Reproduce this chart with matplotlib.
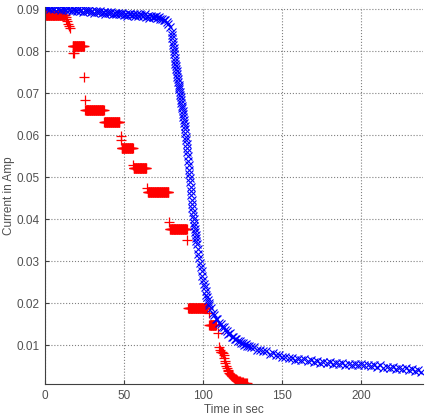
import numpy as np
import matplotlib
matplotlib.use("Agg")
import matplotlib.pyplot as plt

plt.rcParams['font.family'] = ['Liberation Sans', 'DejaVu Sans']

# blue series (x markers): time in s, current in A
blue_t = [0, 1, 2, 3, 4, 5, 6, 7, 8, 9, 10, 11, 12, 13, 14, 15, 16, 17, 18, 19,
          20, 21, 22, 23, 24, 25, 26, 27, 28, 29, 30, 31, 32, 33, 34, 35, 36, 37, 38, 39,
          40, 41, 42, 43, 44, 45, 46, 47, 48, 49, 50, 51, 52, 53, 54, 55, 56, 57, 58, 59,
          60, 61, 62, 63, 64, 65, 66, 67, 68, 69, 70, 71, 72, 73, 74, 75, 76, 77, 78, 79,
          80.0, 80.25, 80.5, 80.75, 81.0, 81.25, 81.5, 81.75, 82.0, 82.25, 82.5, 82.75,
          83.0, 83.25, 83.5, 83.75, 84.0, 84.25, 84.5, 84.75, 85.0, 85.25, 85.5, 85.75,
          86.0, 86.25, 86.5, 86.75, 87.0, 87.25, 87.5, 87.75, 88.0, 88.25, 88.5, 88.75,
          89.0, 89.25, 89.5, 89.75, 90.0, 90.25, 90.5, 90.75, 91.0, 91.25, 91.5, 91.75,
          92.0, 92.25, 92.5, 92.75, 93.0, 93.25, 93.5, 93.75, 94.0, 94.25, 94.5, 94.75,
          95.0, 95.25, 95.5, 95.75, 96.0, 96.5, 97.0, 97.5, 98.0, 98.5, 99.0, 99.5,
          100.0, 100.5, 101.0, 101.5, 102.0, 102.5, 103.0, 103.5, 104.0,
          105, 106, 107, 108, 109, 110, 111, 112, 113, 114, 115, 116, 117, 118, 119, 120,
          121, 122, 123, 124, 125, 126, 127, 128, 129, 130,
          132, 134, 136, 138, 140, 142, 144, 146, 148, 150, 152, 154, 156, 158, 160,
          162, 164, 166, 168, 170, 172, 174, 176, 178, 180, 182, 184, 186, 188, 190,
          192, 194, 196, 198, 200, 202, 204, 206, 208, 210, 212, 214, 216, 218, 220,
          222, 224, 226, 228, 230, 232, 234, 236, 238]
blue_i = [0.0906, 0.0902, 0.0904, 0.0900, 0.0905, 0.0903, 0.0901, 0.0905, 0.0900, 0.0902,
          0.0898, 0.0903, 0.0900, 0.0899, 0.0903, 0.0898, 0.0900, 0.0896, 0.0901, 0.0898,
          0.0897, 0.0901, 0.0895, 0.0898, 0.0894, 0.0899, 0.0896, 0.0895, 0.0899, 0.0893,
          0.0896, 0.0892, 0.0896, 0.0894, 0.0893, 0.0897, 0.0891, 0.0894, 0.0890, 0.0894,
          0.0892, 0.0891, 0.0894, 0.0889, 0.0892, 0.0888, 0.0892, 0.0890, 0.0889, 0.0892,
          0.0887, 0.0890, 0.0885, 0.0890, 0.0888, 0.0887, 0.0890, 0.0885, 0.0888, 0.0883,
          0.0888, 0.0886, 0.0884, 0.0888, 0.0882, 0.0885, 0.0880, 0.0885, 0.0882, 0.0881,
          0.0884, 0.0879, 0.0881, 0.0877, 0.0878, 0.0874, 0.0875, 0.0870, 0.0866, 0.0857,
          0.0845, 0.0838, 0.0831, 0.0823, 0.0815, 0.0808, 0.0800, 0.0793, 0.0785, 0.0778,
          0.0771, 0.0765, 0.0758, 0.0752, 0.0745, 0.0739, 0.0733, 0.0727, 0.0721, 0.0716,
          0.0710, 0.0704, 0.0697, 0.0691, 0.0684, 0.0677, 0.0671, 0.0664, 0.0657, 0.0650,
          0.0644, 0.0637, 0.0630, 0.0622, 0.0614, 0.0606, 0.0597, 0.0588, 0.0579, 0.0570,
          0.0560, 0.0550, 0.0539, 0.0529, 0.0518, 0.0508, 0.0498, 0.0488, 0.0478, 0.0468,
          0.0457, 0.0447, 0.0437, 0.0427, 0.0418, 0.0409, 0.0400, 0.0392, 0.0384, 0.0376,
          0.0369, 0.0362, 0.0355, 0.0348, 0.0342, 0.0330, 0.0318, 0.0307, 0.0296, 0.0286,
          0.0276, 0.0266, 0.0256, 0.0247, 0.0238, 0.0229, 0.0221, 0.0214, 0.0207, 0.0201,
          0.0196,
          0.0188, 0.0176, 0.0172, 0.0163, 0.0162, 0.0153, 0.0151, 0.0144, 0.0144, 0.0136,
          0.0135, 0.0128, 0.0129, 0.0121, 0.0121, 0.0115, 0.0116, 0.0110, 0.0111, 0.0105,
          0.0106, 0.0101, 0.0103, 0.0098, 0.0099, 0.0095,
          0.0096, 0.0090, 0.0090, 0.0086, 0.0086, 0.0080, 0.0081, 0.0077, 0.0078, 0.0072,
          0.0073, 0.0070, 0.0071, 0.0066, 0.0068, 0.0065, 0.0067, 0.0062, 0.0064, 0.0061,
          0.0063, 0.0059, 0.0061, 0.0058, 0.0061, 0.0056, 0.0058, 0.0056, 0.0058, 0.0054,
          0.0056, 0.0054, 0.0056, 0.0052, 0.0055, 0.0052, 0.0054, 0.0050, 0.0052, 0.0049,
          0.0052, 0.0047, 0.0049, 0.0047, 0.0049, 0.0044, 0.0046, 0.0044, 0.0046, 0.0041,
          0.0043, 0.0040, 0.0042, 0.0037]

# red series (+ markers): flat steps of the quantised reading
step_start = [0.0, 17.5, 25.5, 37.5, 48.5, 56.0, 65.0, 79.0, 90.5, 104.0]
step_end = [12.5, 24.5, 37.0, 47.0, 55.5, 64.0, 78.0, 89.5, 102.5, 108.0]
step_level = [0.0886, 0.0813, 0.0660, 0.0632, 0.0571, 0.0523, 0.0464, 0.0377, 0.0189, 0.0148]
step_dt = 0.25

# red single readings between the steps
red_t = [13.0, 13.5, 14.0, 14.5, 15.0, 15.5, 18.0, 18.4, 24.5, 25.0, 48.0, 48.2,
         55.5, 64.5, 78.5, 90.0, 103.4, 109.5,
         110.0, 110.5, 111.0, 111.5, 112.0, 112.5, 113.0, 113.3, 113.6, 114.0, 114.5,
         115.0, 115.5, 116.0, 116.5, 117.0, 117.5, 118.0, 118.5, 119.0, 119.5, 120.0,
         120.5, 121.0, 121.5, 122.0, 122.5, 123.0, 123.5, 124.0, 124.5, 125.0, 125.5,
         126.0, 126.5, 127.0, 127.5]
red_i = [0.0882, 0.0878, 0.0872, 0.0866, 0.0861, 0.0856, 0.0797, 0.0795, 0.0740, 0.0683,
         0.0599, 0.0590, 0.0530, 0.0474, 0.0394, 0.0350, 0.0176, 0.0130,
         0.0095, 0.0088, 0.0085, 0.0085, 0.0084, 0.0082, 0.0078, 0.0070, 0.0063, 0.0057,
         0.0050, 0.0045, 0.0041, 0.0038, 0.0035, 0.0032, 0.0030, 0.0028, 0.0026, 0.0024,
         0.0022, 0.0021, 0.0019, 0.0018, 0.0017, 0.0016, 0.0015, 0.0014, 0.0013, 0.0013,
         0.0012, 0.0012, 0.0011, 0.0011, 0.0011, 0.0010, 0.0010]

x_ticks = [0, 50, 100, 150, 200]
y_ticks = [0.01, 0.02, 0.03, 0.04, 0.05, 0.06, 0.07, 0.08, 0.09]

rt, ri = list(red_t), list(red_i)
for s, e, v in zip(step_start, step_end, step_level):
    ts = np.arange(s, e + 1e-9, step_dt)
    rt.extend(ts)
    ri.extend([v] * len(ts))

fig = plt.figure(figsize=(4.27, 4.18), dpi=100)
ax = fig.add_axes([0.1054, 0.0813, 0.8852, 0.9024])

txt = '#505050'
ax.plot(rt, ri, linestyle='none', marker='+', color='red', markersize=7.5, markeredgewidth=0.9)
ax.plot(blue_t, blue_i, linestyle='none', marker='x', color='blue', markersize=5.5, markeredgewidth=0.8)

ax.set_xlim(0, 239)
ax.set_ylim(0.00079, 0.0906)
ax.set_xticks(x_ticks)
ax.set_yticks(y_ticks)
ax.set_xticklabels([str(v) for v in x_ticks])
ax.set_yticklabels(['%.2f' % v for v in y_ticks])
ax.grid(True, linestyle=':', color='#808080', linewidth=0.8)
ax.set_axisbelow(True)

for side in ['top', 'right']:
    ax.spines[side].set_visible(False)
for side in ['left', 'bottom']:
    ax.spines[side].set_color('#404040')
ax.tick_params(direction='in', length=3, colors='#404040', labelcolor=txt, labelsize=8.5, pad=4)

ax.set_xlabel('Time in sec', fontsize=8.5, color=txt, labelpad=1.5)
ax.set_ylabel('Current in Amp', fontsize=8.5, color=txt)
ax.yaxis.set_label_coords(-0.08, 0.5)

fig.savefig('out.png', dpi=100)
